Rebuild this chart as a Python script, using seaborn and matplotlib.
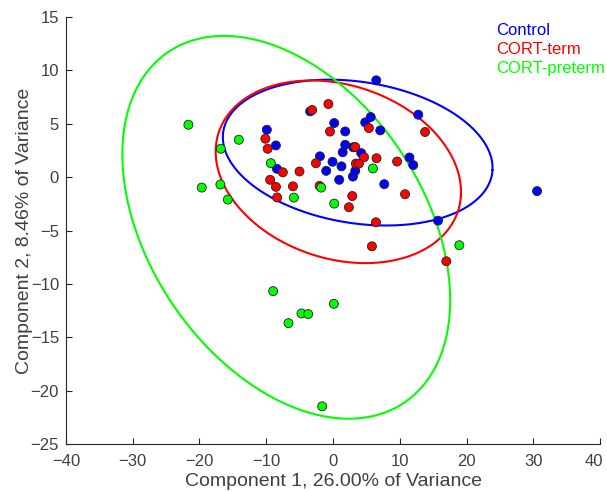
import numpy as np
import pandas as pd
import matplotlib
matplotlib.use("Agg")
import matplotlib.pyplot as plt
import matplotlib.transforms as mtransforms
import seaborn as sns

# PCA scores per group (component 1, component 2)
control_pc1 = [6.48, -3.42, 0.18, 1.83, 4.83, 5.65, 7.08, 12.77, -9.91, -8.56,
               1.83, 1.45, 3.03, 4.23, -1.96, -0.07, 1.27, 3.33, 2.98, -1.02,
               0.93, -8.40, 7.68, 11.45, 12.02, 15.73, 30.57]
control_pc2 = [9.07, 6.16, 5.07, 4.28, 5.13, 5.63, 4.38, 5.85, 4.44, 2.97,
               3.03, 2.33, 2.80, 2.25, 1.95, 1.44, 1.01, 0.59, 0.05, 0.59,
               -0.25, 0.78, -0.66, 1.84, 1.13, -4.08, -1.31]

term_pc1 = [-3.12, -0.69, -0.45, 5.38, 13.79, -10.13, -9.79, 3.33, 4.65, 6.52,
            -2.56, 3.43, 3.88, 9.60, -7.51, -5.02, -9.42, -8.55, -6.00, -2.01,
            -8.37, 2.88, 2.38, 10.79, 6.43, 5.83, 16.97]
term_pc2 = [6.29, 6.85, 4.27, 4.60, 4.23, 3.60, 2.66, 2.82, 1.86, 1.77,
            1.31, 1.27, 1.27, 1.46, 0.45, 0.53, -0.25, -0.91, -0.86, -0.82,
            -1.90, -1.77, -2.82, -1.60, -4.23, -6.48, -7.88]

preterm_pc1 = [-21.66, -14.11, -16.81, -19.66, -16.87, -15.76, -9.31, -5.86, -1.77,
               0.18, 5.98, 18.92, -8.97, -4.72, -3.72, -6.67, 0.13, -1.62]
preterm_pc2 = [4.91, 3.50, 2.66, -0.98, -0.69, -2.10, 1.31, -1.92, -0.98,
               -2.48, 0.81, -6.38, -10.68, -12.77, -12.83, -13.68, -11.87, -21.47]

groups = ["Control", "CORT-term", "CORT-preterm"]
colors = ["#0000FF", "#FF0000", "#00FF00"]

# confidence ellipses: centre, semi-axes, rotation (degrees)
ell_cx = [3.7, 0.8, -7.0]
ell_cy = [2.3, 0.5, -4.7]
ell_a = [20.26, 18.50, 26.1]
ell_b = [6.66, 8.29, 15.6]
ell_angle = [-4.57, -7.35, -25.0]

x_ticks = [-40, -30, -20, -10, 0, 10, 20, 30, 40]
y_ticks = [-25, -20, -15, -10, -5, 0, 5, 10, 15]

df = pd.concat([
    pd.DataFrame({"pc1": control_pc1, "pc2": control_pc2, "group": groups[0]}),
    pd.DataFrame({"pc1": term_pc1, "pc2": term_pc2, "group": groups[1]}),
    pd.DataFrame({"pc1": preterm_pc1, "pc2": preterm_pc2, "group": groups[2]}),
], ignore_index=True)

sns.set_theme(style="ticks")
plt.rcParams["font.family"] = ["Liberation Sans", "DejaVu Sans"]
text_col = "#404040"

fig = plt.figure(figsize=(6.07, 4.92), dpi=100)
ax = fig.add_axes([0.1087, 0.0976, 0.8798, 0.8678])

sns.scatterplot(data=df, x="pc1", y="pc2", hue="group", hue_order=groups,
                palette=colors, s=42, edgecolor="#222222", linewidth=0.6,
                legend=False, ax=ax, zorder=3)

t = np.linspace(0, 2 * np.pi, 400)
for cx, cy, a, b, ang, c in zip(ell_cx, ell_cy, ell_a, ell_b, ell_angle, colors):
    th = np.deg2rad(ang)
    ex = cx + a * np.cos(t) * np.cos(th) - b * np.sin(t) * np.sin(th)
    ey = cy + a * np.cos(t) * np.sin(th) + b * np.sin(t) * np.cos(th)
    ax.plot(ex, ey, color=c, lw=1.5, zorder=2)

ax.set_xlim(-40, 40)
ax.set_ylim(-25, 15)
ax.set_xticks(x_ticks)
ax.set_yticks(y_ticks)
ax.tick_params(direction="in", length=4, width=0.8, colors="#262626",
               labelcolor=text_col, labelsize=12)
ax.tick_params(axis="x", pad=7)
ax.tick_params(axis="y", pad=5)
for side in ["top", "right"]:
    ax.spines[side].set_visible(False)
for side in ["left", "bottom"]:
    ax.spines[side].set_color("#262626")
    ax.spines[side].set_linewidth(0.8)

# keep the last x tick label inside the canvas
fig.canvas.draw()
last = ax.get_xticklabels()[-1]
last.set_transform(last.get_transform() +
                   mtransforms.ScaledTranslation(-6 / 100, 0, fig.dpi_scale_trans))

ax.set_xlabel("Component 1, 26.00% of Variance", fontsize=14, color=text_col, labelpad=3)
ax.set_ylabel("Component 2, 8.46% of Variance", fontsize=14, color=text_col, labelpad=-2)

for i, (g, c) in enumerate(zip(groups, colors)):
    ax.text(0.805, 0.968 - i * 0.044, g, color=c, fontsize=12,
            transform=ax.transAxes, va="center", ha="left")

fig.savefig("out.png", dpi=100)
